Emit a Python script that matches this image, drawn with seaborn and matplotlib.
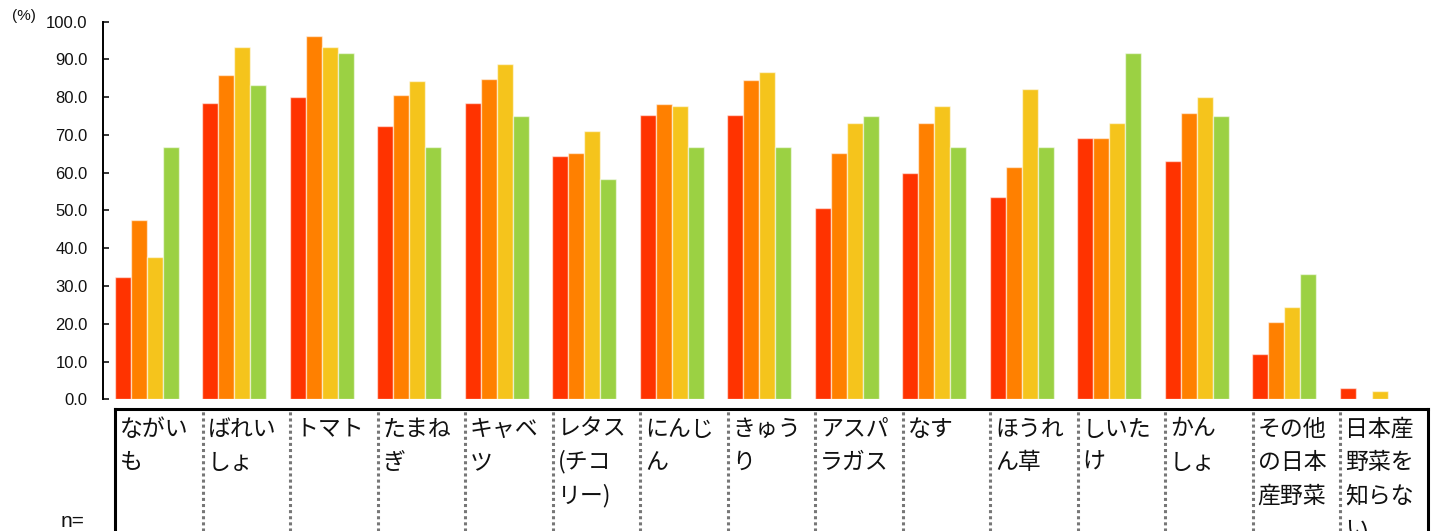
import numpy as np
import pandas as pd
import matplotlib
matplotlib.use("Agg")
import matplotlib.pyplot as plt
import matplotlib.transforms as mtransforms
import seaborn as sns

# Vegetables (table columns) and the four respondent groups
categories = ["ながいも", "ばれいしょ", "トマト", "たまねぎ", "キャベツ",
              "レタス(チコリー)", "にんじん", "きゅうり", "アスパラガス", "なす",
              "ほうれん草", "しいたけ", "かんしょ", "その他の日本産野菜",
              "日本産野菜を知らない"]
groups = ["区分1", "区分2", "区分3", "区分4"]

values_g1 = [32.3, 78.6, 80.0, 72.4, 78.6, 64.5, 75.3, 75.3, 50.7, 60.0, 53.5, 69.1, 63.0, 12.1, 3.1]
values_g2 = [47.5, 85.8, 96.3, 80.7, 84.7, 65.2, 78.2, 84.6, 65.2, 73.1, 61.5, 69.1, 75.7, 20.5, 0.0]
values_g3 = [37.8, 93.3, 93.3, 84.4, 88.9, 71.1, 77.8, 86.7, 73.3, 77.8, 82.2, 73.3, 80.0, 24.4, 2.2]
values_g4 = [66.7, 83.3, 91.7, 66.7, 75.0, 58.3, 66.7, 66.7, 75.0, 66.7, 66.7, 91.7, 75.0, 33.3, 0.0]

yticks = [0, 10, 20, 30, 40, 50, 60, 70, 80, 90, 100]
colors = ["#FF3300", "#FF8000", "#F5C41C", "#9BD143"]

W, H = 1432, 531

df = pd.DataFrame({
    "category": np.repeat(categories, len(groups)),
    "group": groups * len(categories),
    "value": np.ravel(np.column_stack([values_g1, values_g2, values_g3, values_g4])),
})

sns.set_theme(style="white")
plt.rcParams["font.family"] = ["Liberation Sans", "Noto Sans CJK JP", "DejaVu Sans"]

fig = plt.figure(figsize=(W / 100, H / 100), dpi=100)


def fx(px):
    return px / W


def fy(py):
    return 1 - py / H


# bar chart area
ax = fig.add_axes([fx(103), fy(399.3), fx(1415.5) - fx(103), fy(21.7) - fy(399.3)])
sns.barplot(data=df, x="category", y="value", hue="group", hue_order=groups,
            order=categories, palette=colors, width=0.73, saturation=1,
            edgecolor=(1, 1, 1, 0.55), linewidth=1.0, legend=False, ax=ax)
ax.set_xlim(-0.5, len(categories) - 0.5)
ax.set_ylim(0, 100)
ax.set_yticks(yticks)
ax.set_yticklabels([f"{v:.1f}" for v in yticks], fontsize=12, color="#111111")
ax.tick_params(axis="y", direction="in", length=4, width=1.3, pad=11, left=True)
ax.tick_params(axis="x", bottom=False, labelbottom=False)
ax.set_xlabel("")
ax.set_ylabel("")
for s in ["top", "right", "bottom"]:
    ax.spines[s].set_visible(False)
ax.spines["left"].set_color("black")
ax.spines["left"].set_linewidth(1.4)
ax.patch.set_alpha(0)

fig.text(fx(12), fy(16), "(%)", fontsize=11, ha="left", va="center", color="#111111")
fig.text(fx(61), fy(527), "n=", fontsize=15, ha="left", va="baseline", color="#111111")

# category table under the bars
tab = fig.add_axes([fx(115), 0, fx(1427.5) - fx(115), fy(409)])
tab.set_xlim(-0.5, len(categories) - 0.5)
tab.set_ylim(0, 1)
tab.set_xticks([])
tab.set_yticks([])
tab.patch.set_alpha(0)
tab.spines["bottom"].set_visible(False)
for s in ["top", "left", "right"]:
    tab.spines[s].set_color("black")
    tab.spines[s].set_linewidth(2.2)
for k in range(len(categories) - 1):
    tab.axvline(k + 0.5, color="#777777", linestyle=(0, (1, 1)), linewidth=2.2)

SMALL_KANA = set("ゃゅょっャュョッぁぃぅぇぉ)）")


def wrap3(s):
    """Break into lines of three characters, never starting a line with small kana."""
    lines, cur = [], ""
    for ch in s:
        if len(cur) == 3:
            if ch in SMALL_KANA:
                lines.append(cur[:-1])
                cur = cur[-1]
            else:
                lines.append(cur)
                cur = ""
        cur += ch
    lines.append(cur)
    return lines


cell_tr = mtransforms.blended_transform_factory(tab.transData, tab.transAxes)
for k, name in enumerate(categories):
    for i, line in enumerate(wrap3(name)):
        tab.text(k - 0.5, 1, line,
                 transform=cell_tr + mtransforms.ScaledTranslation(
                     5 / 100, -(26.5 + 33.3 * i) / 100, fig.dpi_scale_trans),
                 fontsize=16.5, family=["Noto Sans CJK JP", "DejaVu Sans"],
                 ha="left", va="baseline", color="#111111")

fig.savefig("out.png", dpi=100)
